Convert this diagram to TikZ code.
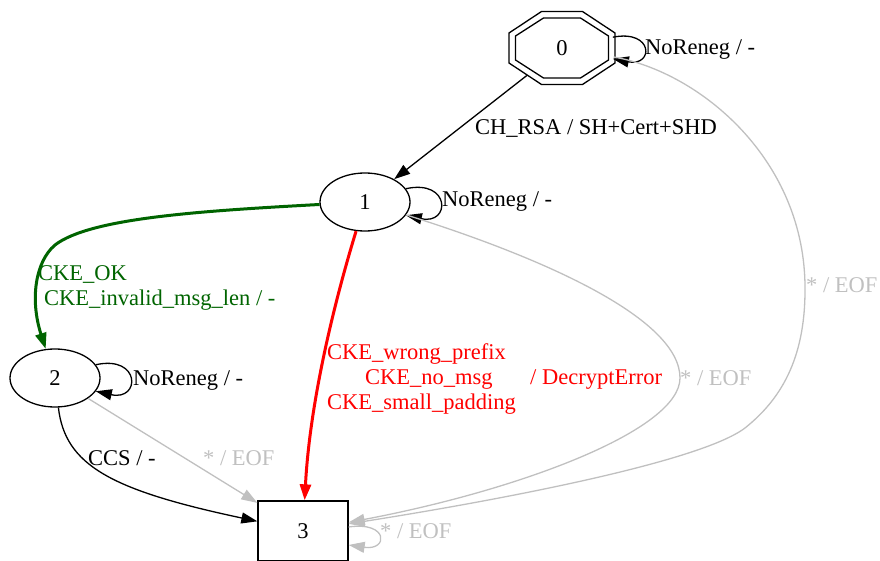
\documentclass[tikz,border=0pt]{standalone}
\usepackage{fontspec}
\setmainfont{Liberation Serif}
\usepackage{tikz}
\usetikzlibrary{arrows.meta,shapes.geometric}
\definecolor{fsmgreen}{RGB}{0,100,0}
\definecolor{fsmred}{RGB}{255,0,0}
\definecolor{fsmgray}{RGB}{192,192,192}

\begin{document}
\begin{tikzpicture}[
  x=1pt, y=-1pt,
  every node/.style={font=\fontsize{22.5}{25}\selectfont},
  fsmstate/.style={draw, ellipse, line width=1.3pt, minimum width=90pt, minimum height=58pt, inner sep=0pt},
  trans/.style={-{Triangle[length=16pt,width=11pt]}, line width=1.3pt},
  translabel/.style={anchor=base west, inner sep=0pt, text height=15pt, text depth=5pt},
  stacklabel/.style={anchor=west, inner sep=0pt, align=left}
]
  \useasboundingbox (0,0) rectangle (880,561);

  % states
  \node[ellipse, minimum width=106pt, minimum height=73pt, inner sep=0pt] (s0) at (562,48) {0};
  \foreach \cx/\cy/\dx/\dy in {20.5/36.5/53/15, 18.5/30/46.5/12}
    \draw[line width=1.3pt, shift={(s0.center)}] (-\cx,-\cy) -- (\cx,-\cy) -- (\dx,-\dy) -- (\dx,\dy)
      -- (\cx,\cy) -- (-\cx,\cy) -- (-\dx,\dy) -- (-\dx,-\dy) -- cycle;
  \node[fsmstate] (s1) at (365,202) {1};
  \node[fsmstate] (s2) at (55,378) {2};
  \node[draw, rectangle, line width=1.3pt, minimum width=90pt, minimum height=60pt, inner sep=0pt] (s3) at (303,531) {3};

  % from 0
  \draw[trans] (s0) -- (s1);
  \draw[trans] (s0.12) .. controls +(41,-8) and +(41,8) .. (s0.-12);
  \draw[trans, fsmgray] (s0) .. controls (700,72) and (806,160) .. (805,290)
    .. controls (805,360) and (780,400) .. (745,428) .. controls (700,462) and (500,500) .. (s3);
  \node[translabel] (l00) at (645,55) {NoReneg / -};
  \node[translabel] (l01) at (475,135) {CH\_RSA / SH+Cert+SHD};
  \node[translabel, fsmgray] (l03) at (806,292) {* / EOF};

  % from 1
  \draw[trans] (s1.18) .. controls +(45,-10) and +(45,10) .. (s1.-18);
  \draw[trans, fsmgreen, line width=3pt] (s1) .. controls (200,211) and (90,218) .. (55,245)
    .. controls (35,262) and (30,300) .. (s2);
  \draw[trans, fsmred, line width=3pt] (s1) .. controls (335,300) and (310,400) .. (s3);
  \draw[trans, fsmgray] (s1) .. controls (550,260) and (680,320) .. (680,378)
    .. controls (680,430) and (520,490) .. (s3);
  \node[translabel] (l11) at (442,207) {NoReneg / -};
  \node[stacklabel, fsmgreen] (l12) at (38,287.5) {CKE\_OK\\\hspace*{6pt}CKE\_invalid\_msg\_len / -};
  \node[stacklabel, fsmred] (l13) at (327,379) {CKE\_wrong\_prefix\\\hspace*{38pt}CKE\_no\_msg\hspace{37.5pt}/ DecryptError\\CKE\_small\_padding};
  \node[translabel, fsmgray] (l13e) at (680,385) {* / EOF};

  % from 2
  \draw[trans] (s2.18) .. controls +(45,-10) and +(45,10) .. (s2.-18);
  \draw[trans] (s2) .. controls (65,465) and (110,490) .. (s3);
  \draw[trans, fsmgray] (s2) -- (s3);
  \node[translabel] (l22) at (133,385) {NoReneg / -};
  \node[translabel] (l23) at (88,465) {CCS / -};
  \node[translabel, fsmgray] (l23e) at (203,465) {* / EOF};

  % from 3
  \draw[trans, fsmgray] (s3.5) .. controls +(40,-6) and +(40,6) .. (s3.-17);
  \node[translabel, fsmgray] (l33) at (380,538) {* / EOF};
\end{tikzpicture}
\end{document}
